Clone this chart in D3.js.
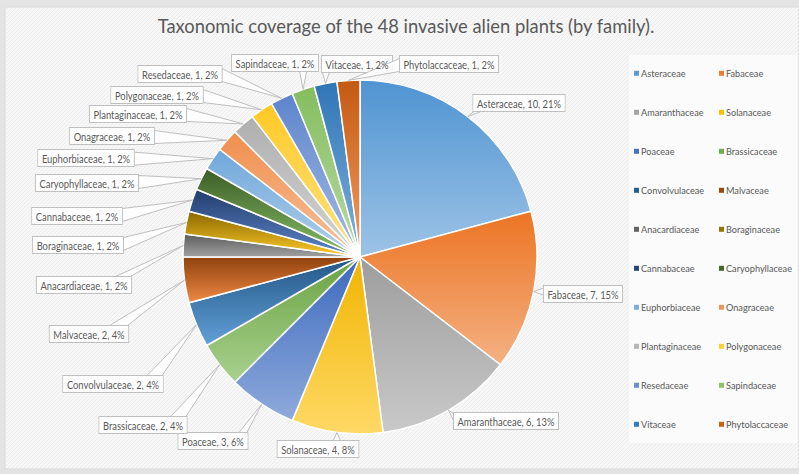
<!DOCTYPE html>
<html>
<head>
<meta charset="utf-8">
<script src="https://cdn.jsdelivr.net/npm/d3@7/dist/d3.min.js"></script>
<style>
  html, body { margin: 0; padding: 0; background: #e4e4e4; }
  svg { display: block; }
  text { font-family: Lato, "Open Sans", sans-serif; fill: #595959; }
</style>
</head>
<body>
<svg id="chart" width="799" height="474"></svg>
<script>
// ---- data ----
const families = ["Asteraceae","Fabaceae","Amaranthaceae","Solanaceae","Poaceae","Brassicaceae",
  "Convolvulaceae","Malvaceae","Anacardiaceae","Boraginaceae","Cannabaceae","Caryophyllaceae",
  "Euphorbiaceae","Onagraceae","Plantaginaceae","Polygonaceae","Resedaceae","Sapindaceae",
  "Vitaceae","Phytolaccaceae"];
const counts = [10,7,6,4,3,2,2,2,1,1,1,1,1,1,1,1,1,1,1,1];
const titleText = "Taxonomic coverage of the 48 invasive alien plants (by family).";

// ---- styles / layout ----
const palette = ["#5B9BD5","#ED7D31","#A5A5A5","#FFC000","#4472C4","#70AD47","#255E91","#9E480E",
  "#636363","#997300","#264478","#43682B","#7CAFDD","#F1975A","#B7B7B7","#FFCD33","#698ED0",
  "#8CC168","#327DC2","#D26012"];
// callout box centres (label layout)
const labelCenters = [[519,103],[583,294],[506,421],[318,449],[213,441],[143,425],[113,384],
  [89,334],[84,285],[78,245],[77,216],[87,183],[86,158],[112,136],[138,114],[157,95],
  [180,74],[275,63],[357,64],[449,64]];

const W = 799, H = 474;
const cx = 360, cy = 257, R = 177;
const svg = d3.select("#chart");
const defs = svg.append("defs");

function measure(str, size){
  const t = svg.append("text").style("font-size", size+"px").text(str);
  const l = t.node().getComputedTextLength();
  t.remove();
  return l;
}

// background hatch
const pat = defs.append("pattern").attr("id","hatch").attr("patternUnits","userSpaceOnUse")
  .attr("width",4).attr("height",4);
pat.append("rect").attr("width",4).attr("height",4).attr("fill","#f7f7f7");
pat.append("path").attr("d","M-1,1 l2,-2 M0,4 l4,-4 M3,5 l2,-2").attr("stroke","#ececec").attr("stroke-width",1);

svg.append("rect").attr("width",W).attr("height",H).attr("fill","#e4e4e4");
svg.append("rect").attr("x",5).attr("y",7).attr("width",W-5).attr("height",462)
  .attr("fill","url(#hatch)").attr("stroke","#d9d9d9").attr("stroke-width",1);

// title
const titleFs = 20*497/measure(titleText, 20);
svg.append("text").attr("x",406).attr("y",33).attr("text-anchor","middle")
  .style("font-size",titleFs.toFixed(2)+"px").text(titleText);

// colors and gradients
const color = d3.scaleOrdinal().domain(families).range(palette);
families.forEach((f,i)=>{
  const c = d3.hsl(color(f));
  const top = d3.hsl(c.h, c.s, Math.max(0, c.l - 0.03));
  const bot = d3.hsl(c.h, c.s, c.l + (1 - c.l)*0.4);
  const g = defs.append("linearGradient").attr("id","g"+i)
    .attr("x1",0).attr("y1",0).attr("x2",0).attr("y2",1);
  g.append("stop").attr("offset","0%").attr("stop-color",top.formatHex());
  g.append("stop").attr("offset","100%").attr("stop-color",bot.formatHex());
});

const total = d3.sum(counts);
const data = families.map((f,i)=>({name:f, value:counts[i], i}));
const pie = d3.pie().sort(null).value(d=>d.value);
const arcs = pie(data);
const arc = d3.arc().innerRadius(0).outerRadius(R);
const edgeArc = d3.arc().innerRadius(R).outerRadius(R);

const gPie = svg.append("g").attr("transform",`translate(${cx},${cy})`);
gPie.selectAll("path").data(arcs).join("path")
  .attr("d",arc)
  .attr("fill",d=>`url(#g${d.data.i})`)
  .attr("stroke","#ffffff").attr("stroke-width",1.5).attr("stroke-linejoin","round");

// callouts
const gLab = svg.append("g");
const fmt = d => `${d.name}, ${d.value}, ${Math.round(d.value/total*100)}%`;
const fs = 10.8;
const squeeze = 84 / measure(fmt(data[0]), fs);
arcs.forEach(d=>{
  const txt = fmt(d.data);
  const [lx,ly] = labelCenters[d.data.i];
  const tw = measure(txt, fs) * squeeze;
  gLab.append("text").attr("x",lx).attr("y",ly).attr("text-anchor","middle")
    .attr("dominant-baseline","central").style("font-size",fs+"px")
    .attr("textLength",tw.toFixed(2)).attr("lengthAdjust","spacingAndGlyphs").text(txt);
  const bw = tw + 8, bh = 17;
  const x0 = lx - bw/2, x1 = lx + bw/2, y0 = ly - bh/2, y1 = ly + bh/2;
  const [px,py] = edgeArc.centroid(d);
  const tx = cx + px, ty = cy + py;
  const dx = tx < x0 ? tx - x0 : (tx > x1 ? tx - x1 : 0);
  const dy = ty < y0 ? ty - y0 : (ty > y1 ? ty - y1 : 0);
  const dist = Math.hypot(dx, dy);
  const vertical = Math.abs(dy) > Math.abs(dx)*0.5 && dy !== 0;
  const edgeLen = vertical ? bw : bh;
  const w = Math.min(edgeLen - 4, Math.max(7, Math.min(20, dist*0.25)));
  function span(tc, a, b){
    let c0 = Math.max(a+1, Math.min(b-1-w, tc - w/2));
    return [c0, c0 + w];
  }
  let b1, b2;
  if (vertical) {
    const ey = dy < 0 ? y0 : y1;
    const [s0,s1] = span(tx, x0, x1);
    b1 = [s0, ey]; b2 = [s1, ey];
  } else {
    const ex = dx < 0 ? x0 : x1;
    const [s0,s1] = span(ty, y0, y1);
    b1 = [ex, s0]; b2 = [ex, s1];
  }
  gLab.insert("path", "text")
    .attr("d", `M${tx},${ty}L${b1[0]},${b1[1]}L${b2[0]},${b2[1]}Z`)
    .attr("fill","#ffffff").attr("fill-opacity",0.85)
    .attr("stroke","#bfbfbf").attr("stroke-width",1);
  gLab.insert("rect", "text")
    .attr("x",x0).attr("y",y0).attr("width",bw).attr("height",bh)
    .attr("fill","#ffffff").attr("stroke","#bfbfbf").attr("stroke-width",1);
  gLab.insert("rect", "text")
    .attr("x",x0+0.5).attr("y",y0+0.5).attr("width",bw-1).attr("height",bh-1)
    .attr("fill","#ffffff");
});
gLab.selectAll("text").raise();

// legend
const gLeg = svg.append("g");
gLeg.append("rect").attr("x",629).attr("y",55).attr("width",168).attr("height",388)
  .attr("fill","#fbfbfb");
const legFs = 10.3;
const legSqueeze = 66 / measure("Caryophyllaceae", legFs);
families.forEach((f,i)=>{
  const col = i % 2, row = Math.floor(i/2);
  const mx = 634 + col*85, my = 73.3 + row*39;
  gLeg.append("rect").attr("x",mx).attr("y",my-2.5).attr("width",5).attr("height",5)
    .attr("fill",color(f));
  gLeg.append("text").attr("x",mx+7).attr("y",my).attr("dominant-baseline","central")
    .style("font-size",legFs+"px")
    .attr("textLength",(measure(f, legFs)*legSqueeze).toFixed(2)).attr("lengthAdjust","spacingAndGlyphs")
    .text(f);
});
</script>
</body>
</html>
